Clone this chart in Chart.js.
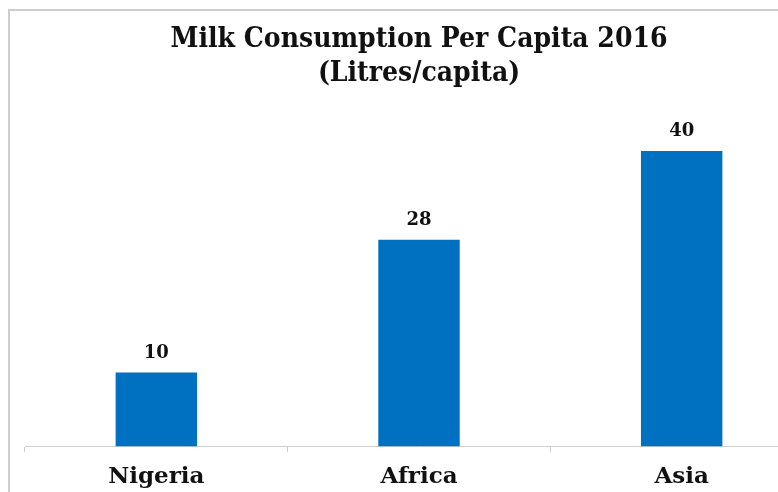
<!DOCTYPE html>
<html>
<head>
<meta charset="utf-8">
<script src="https://cdn.jsdelivr.net/npm/chart.js"></script>
<style>
  html, body { margin: 0; padding: 0; background: #fff; overflow: hidden; }
  body { width: 778px; height: 492px; position: relative; }
  .frame {
    position: absolute; left: 8px; top: 9px; width: 900px; height: 600px;
    border-top: 2px solid #cdcdcd; border-left: 2px solid #cdcdcd;
  }
  .chart-wrapper { position: absolute; left: 0; top: 0; width: 820px; height: 502px; }
</style>
</head>
<body>
<div class="frame"></div>
<div class="chart-wrapper"><canvas id="milk-chart"></canvas></div>
<script>
// 데이터
const categories = ['Nigeria', 'Africa', 'Asia'];
const litresPerCapita = [10, 28, 40];
const titleLines = ['Milk Consumption Per Capita 2016', '(Litres/capita)'];

const serif = "'DejaVu Serif Condensed', 'DejaVu Serif', serif";

// 막대 위 값 표시
const valueLabels = {
  id: 'valueLabels',
  afterDatasetsDraw(chart) {
    const ctx = chart.ctx;
    const meta = chart.getDatasetMeta(0);
    ctx.save();
    ctx.font = "bold 18px 'DejaVu Serif', serif";
    ctx.fillStyle = '#111';
    ctx.textAlign = 'center';
    ctx.textBaseline = 'alphabetic';
    meta.data.forEach((bar, i) => {
      ctx.fillText(String(litresPerCapita[i]), bar.x, bar.y - 15);
    });
    ctx.restore();
  }
};

new Chart(document.getElementById('milk-chart'), {
  type: 'bar',
  data: {
    labels: categories,
    datasets: [{
      data: litresPerCapita,
      backgroundColor: '#0070c0',
      borderWidth: 0,
      barPercentage: 0.31,
      categoryPercentage: 1
    }]
  },
  options: {
    responsive: true,
    maintainAspectRatio: false,
    animation: false,
    layout: { padding: { left: 25, right: 7, top: 23, bottom: 0 } },
    scales: {
      x: {
        grid: {
          display: true,
          drawOnChartArea: false,
          drawTicks: true,
          tickLength: 6,
          color: '#d0d0d0',
          offset: true
        },
        border: { display: true, color: '#d0d0d0', dash: [2, 1] },
        ticks: {
          padding: 11,
          color: '#111',
          font: { family: "'DejaVu Serif', serif", size: 23, weight: 'bold' }
        }
      },
      y: {
        display: false,
        min: 0,
        max: 45
      }
    },
    plugins: {
      legend: { display: false },
      tooltip: { enabled: false },
      title: {
        display: true,
        text: titleLines,
        color: '#111',
        font: { family: serif, size: 28, weight: 'bold', lineHeight: 1.2 },
        padding: { top: 0, bottom: 24 }
      }
    }
  },
  plugins: [valueLabels]
});
</script>
</body>
</html>
